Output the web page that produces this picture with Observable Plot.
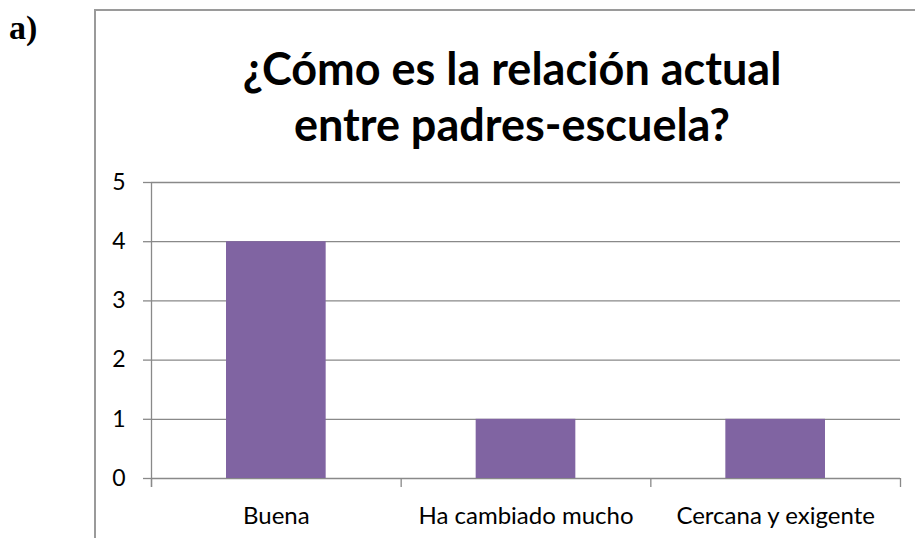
<!DOCTYPE html>
<html><head><meta charset="utf-8">
<script src="https://cdn.jsdelivr.net/npm/d3@7"></script>
<script src="https://cdn.jsdelivr.net/npm/@observablehq/plot@0.6"></script>
<style>
html,body{margin:0;padding:0;background:#fff;}
#wrap{position:relative;width:915px;height:538px;overflow:hidden;background:#fff;}
#lab{position:absolute;left:9px;top:9px;font-family:"Liberation Serif","Times New Roman",serif;font-weight:bold;font-size:34px;color:#000;}
#frame{position:absolute;left:94px;top:9px;width:840px;height:600px;border:2px solid #9a9a9a;box-sizing:border-box;}
#title{position:absolute;left:112px;width:800px;top:40px;text-align:center;font-family:Lato,"Open Sans",sans-serif;font-weight:bold;font-size:45px;line-height:56px;color:#000;}
#chart{position:absolute;left:0;top:0;}
</style></head>
<body><div id="wrap"><div id="lab">a)</div><div id="frame"></div>
<div id="title">¿Cómo es la relación actual<br>entre padres-escuela?</div>
<div id="chart"></div></div>
<script>
const categories = ["Buena", "Ha cambiado mucho", "Cercana y exigente"];
const values = [4, 1, 1];
const yTicks = [0, 1, 2, 3, 4, 5];

const data = categories.map((c, i) => ({category: c, index: i, value: values[i]}));
const grid = "#898989";
const font = "Lato, 'Open Sans', sans-serif";

const chart = Plot.plot({
  width: 915, height: 538,
  marginLeft: 151, marginRight: 15, marginTop: 182, marginBottom: 60,
  style: {fontFamily: font, background: "transparent", overflow: "visible"},
  x: {type: "linear", domain: [0, categories.length], axis: null},
  y: {domain: [0, 5], axis: null},
  marks: [
    Plot.gridY(yTicks, {stroke: grid, strokeOpacity: 1, strokeWidth: 1.3}),
    Plot.axisY(yTicks, {tickSize: 8, tickPadding: 18, stroke: grid, strokeWidth: 1.3, fontSize: 23, fill: "#000", tickFormat: d => String(d), label: null}),
    Plot.axisX(d3.range(categories.length + 1), {tickSize: 9, stroke: grid, strokeWidth: 1.3, tickFormat: () => "", label: null}),
    Plot.ruleX([0], {stroke: grid, strokeWidth: 1.3, insetBottom: -9}),
    Plot.rectY(data, {x1: d => d.index, x2: d => d.index + 1, y: "value", fill: "#8064A2", insetLeft: 75, insetRight: 75}),
    Plot.text(data, {x: d => d.index + 0.5, y: 0, text: "category", dy: 38, fontSize: 24, fill: "#000"})
  ]
});
document.getElementById("chart").appendChild(chart);
</script></body></html>
